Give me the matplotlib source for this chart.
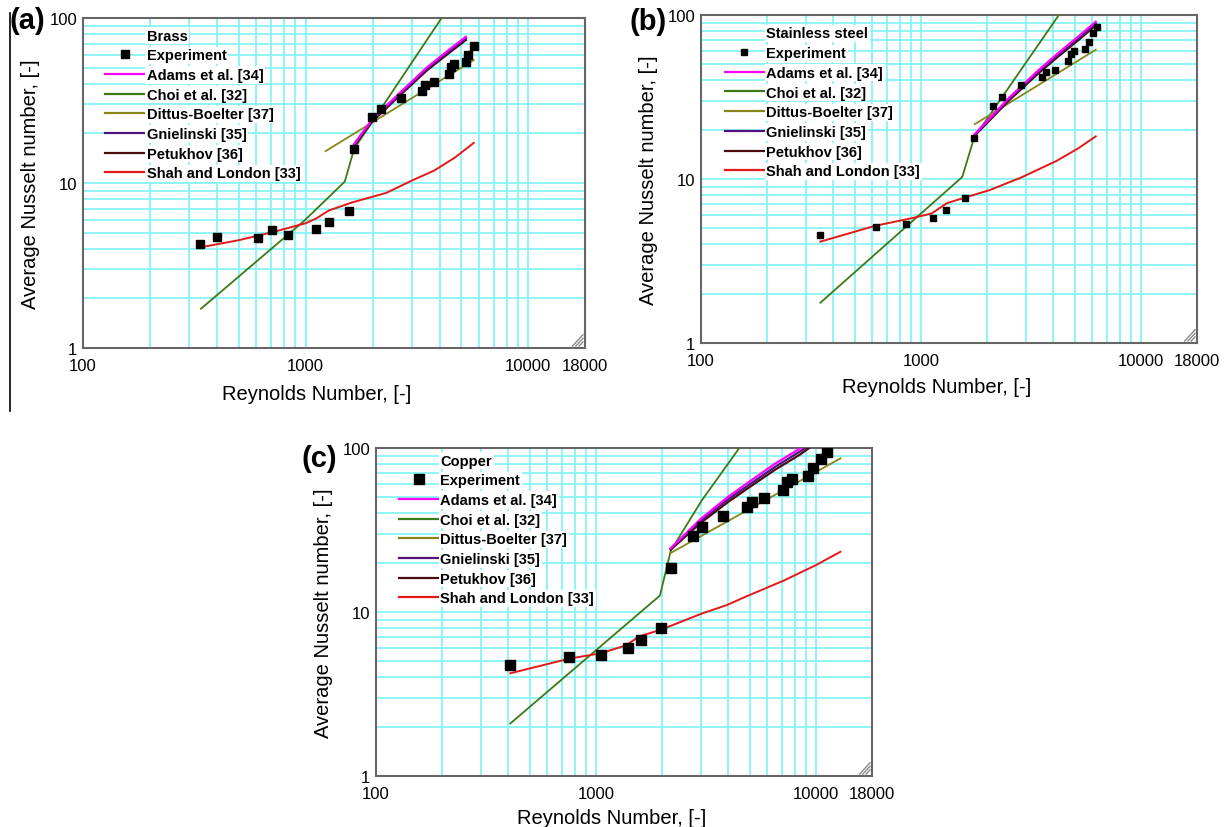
'''
Nusselt number vs Reynolds number for brass, stainless steel and copper
'''

import matplotlib as mpl
import matplotlib.pyplot as plt
from matplotlib.lines import Line2D
from matplotlib.ticker import NullFormatter, FixedLocator, FixedFormatter

mpl.rcParams['font.family'] = ['Liberation Sans', 'DejaVu Sans']
mpl.rcParams['xtick.labelsize'] = 12
mpl.rcParams['ytick.labelsize'] = 12
mpl.rcParams['axes.labelsize'] = 14.5

# ---------------- data ----------------
# (a) brass
brass_exp_re = [336, 402, 612, 703, 836, 1109, 1273, 1566, 1652, 1995, 2176, 2680,
                3318, 3436, 3785, 4389, 4497, 4654, 5255, 5383, 5694]
brass_exp_nu = [4.26, 4.69, 4.63, 5.22, 4.87, 5.24, 5.81, 6.80, 16.1, 25.0, 28.1, 32.6,
                36.3, 39.3, 40.8, 45.8, 50.3, 52.6, 54.3, 59.7, 67.4]
brass_turb_re = [1650, 2000, 2700, 3500, 4300, 5250]
brass_adams_nu = [17.2, 24.5, 36.0, 50.0, 62.5, 77.0]
brass_gniel_nu = [17.0, 24.1, 35.3, 48.9, 61.0, 75.0]
brass_petuk_nu = [16.8, 23.7, 34.7, 48.0, 59.8, 73.5]
brass_choi_re = [339, 988, 1500, 1652, 4300]
brass_choi_nu = [1.73, 5.92, 10.2, 16.1, 111]
brass_db_re = [1230, 5694]
brass_db_nu = [15.6, 55.6]
brass_shah_re = [339, 500, 708, 1000, 1119, 1268, 1625, 2300, 3027, 3785, 4700, 5694]
brass_shah_nu = [4.08, 4.5, 5.03, 5.7, 6.11, 6.8, 7.64, 8.7, 10.4, 11.9, 14.3, 17.5]

# (b) stainless steel
ss_exp_re = [347, 625, 857, 1140, 1303, 1592, 1746, 2133, 2344, 2851, 3538, 3690,
             4064, 4673, 4807, 4959, 5560, 5802, 6030, 6290]
ss_exp_nu = [4.56, 5.13, 5.30, 5.80, 6.46, 7.65, 17.9, 28.0, 31.5, 37.4, 41.7, 45.1,
             46.4, 52.6, 57.8, 60.1, 62.1, 68.2, 77.6, 84.9]
ss_turb_re = [1758, 2500, 3357, 4140, 5200, 6237]
ss_adams_nu = [18.8, 31.0, 45.0, 57.5, 74.0, 91.0]
ss_gniel_nu = [18.6, 30.4, 44.0, 56.0, 72.0, 88.5]
ss_petuk_nu = [18.4, 29.9, 43.1, 54.8, 70.3, 86.5]
ss_choi_re = [349, 1542, 1746, 4400]
ss_choi_nu = [1.76, 10.3, 17.9, 107.5]
ss_db_re = [1758, 6237]
ss_db_nu = [21.6, 61.4]
ss_shah_re = [349, 618, 910, 1117, 1315, 1592, 2055, 2850, 4140, 5200, 6237]
ss_shah_nu = [4.15, 5.18, 5.77, 6.16, 7.13, 7.72, 8.56, 10.2, 12.9, 15.4, 18.2]

# (c) copper
cu_exp_re = [408, 758, 1050, 1393, 1596, 1977, 2188, 2754, 3022, 3765, 4842, 5102,
             5826, 7059, 7362, 7762, 9234, 9668, 10540, 11250]
cu_exp_nu = [4.78, 5.35, 5.45, 6.02, 6.71, 7.98, 18.5, 29.2, 32.8, 38.6, 43.5, 47.1,
             49.6, 55.7, 61.8, 64.7, 67.2, 75.2, 85.7, 95.0]
cu_turb_re = [2188, 3000, 4000, 5000, 6500, 8450, 9600]
cu_adams_nu = [24.5, 37.0, 50.5, 62.5, 80.0, 99.0, 111]
cu_gniel_nu = [24.3, 36.0, 48.8, 60.0, 76.5, 95.0, 106.5]
cu_petuk_nu = [24.0, 35.0, 47.0, 57.8, 73.5, 91.0, 103]
cu_choi_re = [408, 1955, 2188, 3022, 4700]
cu_choi_nu = [2.09, 12.6, 23.6, 47.7, 109]
cu_db_re = [2188, 12940]
cu_db_nu = [22.9, 86.5]
cu_shah_re = [408, 750, 1050, 1368, 1574, 1977, 3040, 3925, 4730, 7110, 10000, 12940]
cu_shah_nu = [4.23, 5.18, 5.6, 6.25, 7.10, 7.80, 9.8, 11.0, 12.3, 15.5, 19.3, 23.3]

x_ticks = [100, 1000, 10000, 18000]
y_ticks = [1, 10, 100]

# colours
c_adams = '#ff00ff'
c_choi = '#3b7a17'
c_db = '#86861a'
c_gniel = '#52127e'
c_petuk = '#4a0c0c'
c_shah = '#e31818'
c_grid = '#86f4f4'
c_spine = '#666666'

W, H = 1226, 828
fig = plt.figure(figsize=(W/100, H/100), dpi=100)


def px_axes(left, top, right, bottom):
    return fig.add_axes([left/W, 1 - bottom/H, (right - left)/W, (bottom - top)/H])


def panel(ax, title, exp_re, exp_nu, ms, turb_re, adams, gniel, petuk,
          choi_re, choi_nu, db_re, db_nu, shah_re, shah_nu, leg_xy, xlab_xy):
    ax.set_xscale('log')
    ax.set_yscale('log')

    ax.plot(choi_re, choi_nu, color=c_choi, lw=1.3, zorder=3)
    ax.plot(db_re, db_nu, color=c_db, lw=1.3, zorder=3)
    ax.plot(turb_re, petuk, color=c_petuk, lw=1.6, zorder=3)
    ax.plot(turb_re, gniel, color=c_gniel, lw=1.6, zorder=3)
    ax.plot(turb_re, adams, color=c_adams, lw=1.6, zorder=3.2)
    ax.plot(shah_re, shah_nu, color=c_shah, lw=1.4, zorder=3)
    ax.plot(exp_re, exp_nu, 's', color='k', ms=ms, zorder=4)

    ax.set_xlim(100, 18000)
    ax.set_ylim(1, 100)

    ax.xaxis.set_major_locator(FixedLocator(x_ticks))
    ax.xaxis.set_major_formatter(FixedFormatter([str(v) for v in x_ticks]))
    ax.xaxis.set_minor_formatter(NullFormatter())
    ax.yaxis.set_major_locator(FixedLocator(y_ticks))
    ax.yaxis.set_major_formatter(FixedFormatter([str(v) for v in y_ticks]))
    ax.yaxis.set_minor_formatter(NullFormatter())
    ax.tick_params(which='both', length=0)
    ax.tick_params(axis='x', pad=7)
    ax.tick_params(axis='y', pad=4)

    ax.grid(True, which='both', color=c_grid, lw=1.3)
    ax.set_axisbelow(True)
    for sp in ax.spines.values():
        sp.set_color(c_spine)
        sp.set_linewidth(1.5)

    ax.set_xlabel('Reynolds Number, [-]')
    ax.xaxis.set_label_coords(*xlab_xy)
    ax.set_ylabel('Average Nusselt number, [-]', labelpad=7)

    # legend with the material name as first row
    handles = [
        Line2D([], [], ls='none', label=title),
        Line2D([], [], ls='none', marker='s', color='k', ms=ms - 0.5, label='Experiment'),
        Line2D([], [], color=c_adams, lw=1.6, label='Adams et al. [34]'),
        Line2D([], [], color=c_choi, lw=1.6, label='Choi et al. [32]'),
        Line2D([], [], color=c_db, lw=1.6, label='Dittus-Boelter [37]'),
        Line2D([], [], color=c_gniel, lw=1.6, label='Gnielinski [35]'),
        Line2D([], [], color=c_petuk, lw=1.6, label='Petukhov [36]'),
        Line2D([], [], color=c_shah, lw=1.6, label='Shah and London [33]'),
    ]
    leg = ax.legend(handles=handles, loc='upper left', bbox_to_anchor=leg_xy,
                    frameon=False, borderpad=0, borderaxespad=0,
                    handlelength=2.7, handletextpad=0.15, labelspacing=0.39,
                    prop={'weight': 'bold', 'size': 10.5})
    for t in leg.get_texts():
        t.set_bbox(dict(facecolor='white', edgecolor='none', pad=1.2))

    # small resize grip in the lower right corner
    for k in (0.35, 0.65, 0.95):
        ax.plot([1 - 0.004 - 0.022*k, 0.996], [0.006, 0.006 + 0.036*k],
                color='#8a8a8a', lw=1, transform=ax.transAxes, zorder=5, clip_on=False)


ax_a = px_axes(83, 19, 585, 349)
panel(ax_a, 'Brass', brass_exp_re, brass_exp_nu, 6, brass_turb_re, brass_adams_nu,
      brass_gniel_nu, brass_petuk_nu, brass_choi_re, brass_choi_nu, brass_db_re,
      brass_db_nu, brass_shah_re, brass_shah_nu, (0.044, 0.968), (0.465, -0.11))

ax_b = px_axes(701, 16, 1197, 344)
panel(ax_b, 'Stainless steel', ss_exp_re, ss_exp_nu, 5, ss_turb_re, ss_adams_nu,
      ss_gniel_nu, ss_petuk_nu, ss_choi_re, ss_choi_nu, ss_db_re, ss_db_nu,
      ss_shah_re, ss_shah_nu, (0.048, 0.965), (0.476, -0.104))

ax_c = px_axes(376, 449, 872, 777)
panel(ax_c, 'Copper', cu_exp_re, cu_exp_nu, 7, cu_turb_re, cu_adams_nu,
      cu_gniel_nu, cu_petuk_nu, cu_choi_re, cu_choi_nu, cu_db_re, cu_db_nu,
      cu_shah_re, cu_shah_nu, (0.046, 0.983), (0.476, -0.097))

# panel letters
fig.text(27/W, 1 - 21/H, '(a)', fontsize=21, fontweight='bold', ha='center', va='center')
fig.text(648/W, 1 - 22/H, '(b)', fontsize=21, fontweight='bold', ha='center', va='center')
fig.text(319/W, 1 - 459/H, '(c)', fontsize=21, fontweight='bold', ha='center', va='center')

# left border line of panel (a)
fig.add_artist(Line2D([9.5/W, 9.5/W], [1 - 14/H, 1 - 412/H], color='k', lw=1.2))

fig.savefig('out.png', dpi=100)
